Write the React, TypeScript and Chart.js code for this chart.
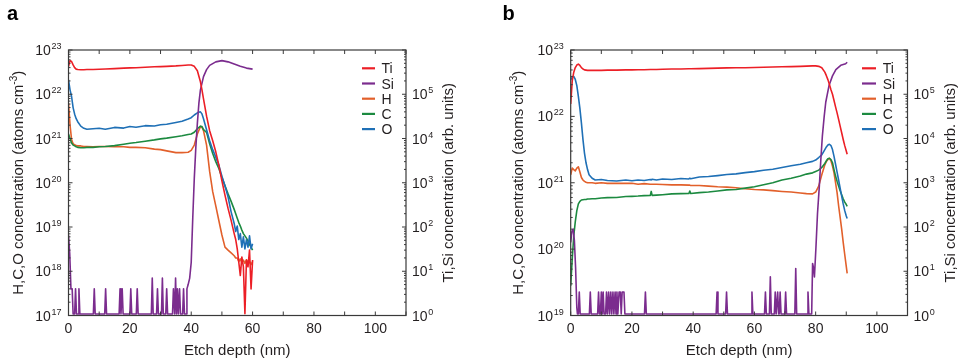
import React, { useEffect, useRef } from 'react';
import { Chart, registerables } from 'chart.js';

Chart.register(...registerables);

// ---------------- data ----------------
const seriesOrder = ['Ti', 'Si', 'H', 'C', 'O'];
const xTickValues = [0, 10, 20, 30, 40, 50, 60, 70, 80, 90, 100, 110];
const xTickLabels = [0, 20, 40, 60, 80, 100];
const rightExponents = [0, 1, 2, 3, 4, 5];
const leftExponentsA = [17, 18, 19, 20, 21, 22, 23];
const leftExponentsB = [19, 20, 21, 22, 23];

// Panel a: shared depth grid (nm) for Ti, H, C, O
const aDepth = [0, 0.5, 1, 1.5, 2, 2.5, 3, 4, 5, 6, 8, 10, 12, 15, 18, 20, 22, 25, 28, 30, 32, 35, 37, 39, 40, 41, 42, 43, 43.5, 44, 45, 46, 47, 48, 49, 50, 51, 52, 53, 54, 54.5, 55, 55.5, 56, 56.5, 57, 57.5, 58, 58.5, 59, 59.5, 60];
const aTi = [4.2e5, 5.75e5, 5.5e5, 4.6e5, 4.0e5, 3.7e5, 3.63e5, 3.59e5, 3.59e5, 3.63e5, 3.63e5, 3.67e5, 3.72e5, 3.8e5, 3.89e5, 3.94e5, 3.98e5, 4.07e5, 4.17e5, 4.22e5, 4.27e5, 4.37e5, 4.47e5, 4.57e5, 4.57e5, 4.27e5, 3.39e5, 1.91e5, 1.26e5, 7.9e4, 3.2e4, 1.5e4, 8.9e3, 5.0e3, 2.5e3, 1.1e3, 525, 263, 141, 71, 52, 32, 16, 8, 21, 12.6, 1.1, 18, 12.6, 30, 4, 18];
const aH = [6.3e21, 2.0e21, 9.5e20, 7.6e20, 7.2e20, 6.9e20, 6.8e20, 6.8e20, 6.6e20, 6.6e20, 6.5e20, 6.6e20, 6.6e20, 6.5e20, 6.5e20, 6.3e20, 6.3e20, 6.2e20, 5.75e20, 5.6e20, 5.25e20, 4.8e20, 4.8e20, 4.9e20, 5.4e20, 7.1e20, 1.26e21, 1.86e21, 1.8e21, 1.51e21, 7.1e20, 1.8e20, 6.3e19, 3.0e19, 1.4e19, 6.6e18, 3.5e18, 3.0e18, 2.6e18, 2.24e18, 2.0e18, 2.0e18, 1.66e18, 1.9e18, 1.58e18, 1.78e18, 1.51e18, 1.82e18, 1.58e18, 1.66e18, 1.41e18, 1.66e18];
const aC = [1.26e21, 1.0e21, 7.9e20, 7.1e20, 6.8e20, 6.5e20, 6.3e20, 6.2e20, 6.2e20, 6.3e20, 6.3e20, 6.5e20, 6.6e20, 6.9e20, 7.4e20, 7.8e20, 8.1e20, 8.7e20, 9.3e20, 9.8e20, 1.02e21, 1.1e21, 1.15e21, 1.23e21, 1.26e21, 1.38e21, 1.66e21, 1.9e21, 1.86e21, 1.58e21, 1.38e21, 7.6e20, 4.6e20, 3.0e20, 2.1e20, 1.32e20, 8.5e19, 5.6e19, 3.8e19, 2.5e19, 2.0e19, 1.58e19, 1.26e19, 1.05e19, 8.5e18, 7.1e18, 6.3e18, 5.6e18, 4.8e18, 4.0e18, 3.5e18, 3.0e18];
const aO = [2.1e22, 1.26e22, 8.9e21, 5.0e21, 3.55e21, 2.8e21, 2.4e21, 1.9e21, 1.7e21, 1.62e21, 1.66e21, 1.7e21, 1.62e21, 1.78e21, 1.72e21, 1.86e21, 1.8e21, 1.95e21, 1.92e21, 2.05e21, 2.1e21, 2.3e21, 2.45e21, 2.75e21, 2.95e21, 3.4e21, 3.8e21, 4.0e21, 3.6e21, 2.8e21, 1.58e21, 8.9e20, 5.6e20, 3.8e20, 2.5e20, 1.41e20, 8.5e19, 4.8e19, 2.2e19, 1.2e19, 7.9e18, 1.05e19, 5.2e18, 7.1e18, 3.5e18, 6.0e18, 3.2e18, 5.2e18, 3.5e18, 6.3e18, 3.2e18, 4.2e18];
// Panel a: Si (own depth grid)
const aSiDepth = [0, 0.4, 0.8, 1.2, 1.5, 2.0, 2.3, 2.6, 3.1, 3.4, 3.7, 8.1, 8.4, 8.7, 11.8, 12.1, 12.4, 16.5, 16.8, 17.1, 17.5, 17.8, 20.0, 20.3, 20.6, 22.1, 22.4, 22.7, 27.0, 27.3, 27.6, 28.7, 29.0, 29.3, 30.3, 30.6, 30.9, 31.7, 32.0, 32.3, 33.9, 34.2, 34.6, 34.9, 35.2, 35.5, 35.8, 36.2, 36.5, 37.2, 37.5, 37.8, 38.3, 38.6, 39.0, 39.5, 40.0, 40.5, 41.0, 41.5, 42.0, 42.5, 43, 44, 45, 46, 48, 50, 52, 54, 56, 58, 60];
const aSi = [65, 25, 4, 4, 1.08, 1.08, 4, 1.08, 1.08, 4, 1.08, 1.08, 4, 1.08, 1.08, 4, 1.08, 1.08, 4, 1.08, 4, 1.08, 1.08, 4, 1.08, 1.08, 4, 1.08, 1.08, 7, 1.08, 1.08, 4, 1.08, 1.08, 7, 1.08, 1.08, 4, 1.08, 1.08, 4, 1.08, 7, 1.08, 4, 1.08, 4, 1.08, 1.08, 4, 1.08, 1.08, 4, 5, 7, 16, 160, 1260, 6300, 2.2e4, 6.3e4, 1.26e5, 2.5e5, 3.6e5, 4.5e5, 5.4e5, 5.75e5, 5.4e5, 4.8e5, 4.3e5, 3.9e5, 3.7e5];

// Panel b: shared depth grid (nm) for Ti, H, C, O
const bDepth = [0, 0.5, 1, 1.5, 2, 2.5, 3, 3.5, 4, 4.5, 5, 5.5, 6, 7, 8, 10, 12, 15, 18, 20, 22, 24, 26, 26.3, 26.6, 28, 30, 33, 36, 38.6, 38.9, 39.2, 42, 45, 48, 51, 54, 57, 60, 63, 66, 69, 72, 75, 77, 79, 80, 81, 82, 83, 83.5, 84, 84.5, 85, 85.5, 86, 86.5, 87, 87.5, 88, 88.5, 89, 89.5, 90, 90.3];
const bTi = [6.0e4, 2.0e5, 3.16e5, 4.0e5, 4.57e5, 4.79e5, 4.47e5, 4.0e5, 3.72e5, 3.55e5, 3.51e5, 3.47e5, 3.47e5, 3.47e5, 3.47e5, 3.47e5, 3.51e5, 3.51e5, 3.55e5, 3.55e5, 3.59e5, 3.59e5, 3.63e5, 3.63e5, 3.63e5, 3.63e5, 3.67e5, 3.72e5, 3.72e5, 3.76e5, 3.76e5, 3.76e5, 3.8e5, 3.85e5, 3.89e5, 3.94e5, 3.98e5, 3.98e5, 4.03e5, 4.07e5, 4.12e5, 4.17e5, 4.22e5, 4.27e5, 4.32e5, 4.37e5, 4.37e5, 4.27e5, 3.98e5, 3.16e5, 2.63e5, 2.14e5, 1.66e5, 1.26e5, 1.0e5, 7.2e4, 5.2e4, 3.8e4, 2.7e4, 1.9e4, 1.35e4, 9.5e3, 6.9e3, 5.2e3, 4.4e3];
const bH = [1.32e21, 1.66e21, 1.58e21, 1.51e21, 1.66e21, 1.74e21, 1.45e21, 1.2e21, 1.1e21, 1.05e21, 1.02e21, 1.0e21, 1.0e21, 1.0e21, 9.8e20, 1.0e21, 9.8e20, 9.8e20, 9.8e20, 9.8e20, 9.5e20, 9.7e20, 9.5e20, 9.5e20, 9.5e20, 9.5e20, 9.4e20, 9.3e20, 9.3e20, 9.2e20, 9.2e20, 9.1e20, 9.1e20, 8.9e20, 8.7e20, 8.6e20, 8.4e20, 8.1e20, 7.9e20, 7.8e20, 7.6e20, 7.4e20, 7.25e20, 7.0e20, 6.85e20, 6.8e20, 7.25e20, 8.9e20, 1.32e21, 1.86e21, 2.09e21, 2.24e21, 2.34e21, 2.14e21, 1.78e21, 1.41e21, 1.0e21, 7.1e20, 4.5e20, 3.0e20, 2.0e20, 1.26e20, 8.3e19, 5.5e19, 4.3e19];
const bC = [2.8e19, 7.1e19, 1.58e20, 2.6e20, 3.8e20, 4.8e20, 5.25e20, 5.5e20, 5.56e20, 5.6e20, 5.6e20, 5.7e20, 5.7e20, 5.75e20, 5.75e20, 5.9e20, 5.96e20, 6.0e20, 6.2e20, 6.24e20, 6.3e20, 6.4e20, 6.45e20, 7.4e20, 6.45e20, 6.5e20, 6.6e20, 6.8e20, 6.85e20, 6.9e20, 7.5e20, 6.9e20, 7.1e20, 7.25e20, 7.5e20, 7.8e20, 7.9e20, 8.3e20, 8.7e20, 9.3e20, 1.0e21, 1.1e21, 1.17e21, 1.26e21, 1.35e21, 1.41e21, 1.48e21, 1.55e21, 1.7e21, 1.95e21, 2.14e21, 2.3e21, 2.34e21, 2.24e21, 2.0e21, 1.58e21, 1.26e21, 1.05e21, 8.9e20, 7.6e20, 6.6e20, 5.75e20, 5.1e20, 4.7e20, 4.4e20];
const bO = [3.55e22, 3.9e22, 4.0e22, 3.6e22, 2.9e22, 2.0e22, 1.32e22, 7.9e21, 4.5e21, 2.8e21, 2.0e21, 1.58e21, 1.32e21, 1.17e21, 1.1e21, 1.12e21, 1.08e21, 1.06e21, 1.1e21, 1.07e21, 1.1e21, 1.08e21, 1.12e21, 1.1e21, 1.13e21, 1.1e21, 1.14e21, 1.12e21, 1.16e21, 1.14e21, 1.17e21, 1.15e21, 1.22e21, 1.24e21, 1.28e21, 1.33e21, 1.36e21, 1.42e21, 1.47e21, 1.54e21, 1.6e21, 1.7e21, 1.8e21, 1.9e21, 2.0e21, 2.1e21, 2.2e21, 2.4e21, 2.63e21, 3.16e21, 3.47e21, 3.7e21, 3.8e21, 3.63e21, 3.16e21, 2.5e21, 1.9e21, 1.45e21, 1.1e21, 8.3e20, 6.3e20, 4.8e20, 3.8e20, 3.16e20, 2.9e20];
// Panel b: Si (own depth grid)
const bSiDepth = [0, 0.4, 0.8, 1.2, 1.6, 2.0, 2.2, 2.5, 2.8, 3.1, 6.1, 6.4, 6.7, 8.8, 9.1, 9.4, 9.7, 10.0, 10.3, 10.6, 10.9, 11.4, 11.7, 12.0, 12.4, 12.7, 13.1, 13.4, 13.8, 14.1, 14.5, 14.8, 15.1, 15.4, 15.8, 16.2, 16.5, 16.8, 17.4, 17.7, 24.1, 24.4, 24.7, 47.5, 47.8, 48.1, 50.6, 50.9, 51.2, 58.9, 59.2, 59.5, 63.3, 63.6, 63.9, 64.9, 65.2, 65.5, 66.5, 66.8, 67.1, 67.3, 67.6, 67.9, 68.1, 68.4, 68.7, 69.9, 70.2, 70.5, 73.2, 73.5, 73.8, 77.2, 77.5, 77.8, 78.7, 79.0, 79.3, 79.6, 80.1, 80.6, 81.2, 81.7, 82.2, 82.8, 83.3, 84.4, 85.5, 86.6, 88.2, 89.8, 90.3];
const bSi = [45, 80, 90, 50, 12, 1.5, 1.08, 1.08, 3.4, 1.08, 1.08, 3.4, 1.08, 1.08, 3.4, 1.08, 1.08, 3.4, 1.08, 3.4, 1.08, 1.08, 3.4, 1.08, 3.4, 1.08, 3.4, 1.08, 3.4, 1.08, 3.4, 1.08, 3.4, 1.08, 3.4, 3.4, 1.08, 3.4, 3.4, 1.08, 1.08, 3.4, 1.08, 1.08, 3.4, 1.08, 1.08, 3.4, 1.08, 1.08, 3.4, 1.08, 1.08, 3.4, 1.08, 1.08, 7.5, 1.08, 1.08, 3.4, 1.08, 1.08, 3.4, 1.08, 1.08, 3.4, 1.08, 1.08, 3.4, 1.08, 1.08, 11.5, 1.08, 1.08, 3.4, 1.08, 1.08, 15, 12, 7.4, 35, 200, 830, 3400, 1.15e4, 3.2e4, 6.6e4, 1.6e5, 2.6e5, 3.6e5, 4.5e5, 4.9e5, 5.3e5];

// ---------------- styling ----------------
const FONT = '"Liberation Sans", Arial, Helvetica, sans-serif';
const TEXT = '#231f20';
const AXIS = '#3a3a3a';
const COLORS: Record<string, string> = {
  Ti: '#ec1f26',
  Si: '#7b2c8e',
  H: '#e2602b',
  C: '#1c8a40',
  O: '#1f70b6',
};
const H_CANVAS = 362;

type PanelSpec = {
  letter: string;
  width: number;
  plotLeft: number;
  plotRight: number;
  plotTop: number;
  plotBottom: number;
  leftMin: number;
  leftMax: number;
  leftExps: number[];
  leftTitleX: number;
  rightTitleX: number;
  legendX1: number;
  legendX2: number;
  legendTextX: number;
  letterX: number;
  series: { label: string; depth: number[]; values: number[]; axis: 'y' | 'y2' }[];
};

function pts(xs: number[], ys: number[]) {
  return xs.map((x, i) => ({ x, y: ys[i] }));
}

function drawPow(ctx: CanvasRenderingContext2D, exp: string, x: number, y: number, align: 'left' | 'right') {
  ctx.font = `14px ${FONT}`;
  const wb = ctx.measureText('10').width;
  ctx.font = `9px ${FONT}`;
  const we = ctx.measureText(exp).width;
  const total = wb + 0.6 + we;
  const x0 = align === 'right' ? x - total : x;
  ctx.textAlign = 'left';
  ctx.textBaseline = 'alphabetic';
  ctx.font = `14px ${FONT}`;
  ctx.fillText('10', x0, y + 5);
  ctx.font = `9px ${FONT}`;
  ctx.fillText(exp, x0 + wb + 0.6, y - 1);
}

function drawRotated(
  ctx: CanvasRenderingContext2D,
  parts: { t: string; sup?: boolean }[],
  baseX: number,
  centerY: number
) {
  const widths = parts.map((p) => {
    ctx.font = p.sup ? `10px ${FONT}` : `15px ${FONT}`;
    return ctx.measureText(p.t).width;
  });
  const total = widths.reduce((s, w) => s + w, 0);
  ctx.save();
  ctx.translate(baseX, centerY);
  ctx.rotate(-Math.PI / 2);
  ctx.textAlign = 'left';
  ctx.textBaseline = 'alphabetic';
  let cx = -total / 2;
  parts.forEach((p, i) => {
    ctx.font = p.sup ? `10px ${FONT}` : `15px ${FONT}`;
    ctx.fillText(p.t, cx, p.sup ? -6 : 0);
    cx += widths[i];
  });
  ctx.restore();
}

function makeDecor(p: PanelSpec) {
  return {
    id: 'decor_' + p.letter,
    afterDatasetsDraw(chart: any) {
      const { ctx, chartArea: a, scales } = chart;
      const sx = scales.x;
      const sy = scales.y;
      const sy2 = scales.y2;
      ctx.save();

      // frame
      ctx.strokeStyle = AXIS;
      ctx.lineWidth = 1.2;
      ctx.strokeRect(a.left, a.top, a.right - a.left, a.bottom - a.top);

      // ticks (inward)
      ctx.lineWidth = 1;
      ctx.beginPath();
      xTickValues.forEach((v) => {
        const px = sx.getPixelForValue(v);
        ctx.moveTo(px, a.bottom);
        ctx.lineTo(px, a.bottom - 4);
        ctx.moveTo(px, a.top);
        ctx.lineTo(px, a.top + 4);
      });
      const logTicks = (scale: any, exps: number[], edge: number, dir: number) => {
        for (let i = 0; i < exps.length; i++) {
          const e = exps[i];
          const kMax = i === exps.length - 1 ? 1 : 9;
          for (let k = 1; k <= kMax; k++) {
            const py = scale.getPixelForValue(k * Math.pow(10, e));
            const len = k === 1 ? 4 : 2;
            ctx.moveTo(edge, py);
            ctx.lineTo(edge + dir * len, py);
          }
        }
      };
      logTicks(sy, p.leftExps, a.left, 1);
      logTicks(sy2, [0, 1, 2, 3, 4, 5, 6], a.right, -1);
      ctx.stroke();

      // tick labels
      ctx.fillStyle = TEXT;
      ctx.font = `14px ${FONT}`;
      ctx.textAlign = 'center';
      ctx.textBaseline = 'alphabetic';
      xTickLabels.forEach((v) => {
        ctx.fillText(String(v), sx.getPixelForValue(v), a.bottom + 17.5);
      });
      p.leftExps.forEach((e) => {
        drawPow(ctx, String(e), a.left - 7, sy.getPixelForValue(Math.pow(10, e)), 'right');
      });
      rightExponents.forEach((e) => {
        drawPow(ctx, String(e), a.right + 6, sy2.getPixelForValue(Math.pow(10, e)), 'left');
      });

      // axis titles
      ctx.font = `15px ${FONT}`;
      ctx.textAlign = 'center';
      ctx.fillText('Etch depth (nm)', (a.left + a.right) / 2, 354.5);
      const cy = (a.top + a.bottom) / 2;
      drawRotated(ctx, [{ t: 'H,C,O concentration (atoms cm' }, { t: '-3', sup: true }, { t: ')' }], p.leftTitleX, cy);
      drawRotated(ctx, [{ t: 'Ti,Si concentration (arb. units)' }], p.rightTitleX, cy);

      // legend
      seriesOrder.forEach((label, i) => {
        const ds = chart.data.datasets.find((d: any) => d.label === label);
        const yy = 68.3 + i * 15.2;
        ctx.strokeStyle = ds.borderColor;
        ctx.lineWidth = 2.2;
        ctx.beginPath();
        ctx.moveTo(p.legendX1, yy);
        ctx.lineTo(p.legendX2, yy);
        ctx.stroke();
        ctx.fillStyle = TEXT;
        ctx.font = `14px ${FONT}`;
        ctx.textAlign = 'left';
        ctx.fillText(label, p.legendTextX, yy + 5);
      });

      // panel letter
      ctx.font = `bold 20px ${FONT}`;
      ctx.fillStyle = '#000';
      ctx.textAlign = 'left';
      ctx.fillText(p.letter, p.letterX, 20);

      ctx.restore();
    },
  };
}

function buildConfig(p: PanelSpec): any {
  const drawOrder = ['Ti', 'Si', 'O', 'C', 'H'];
  const datasets = drawOrder.map((label) => {
    const s = p.series.find((q) => q.label === label)!;
    return {
      label,
      data: pts(s.depth, s.values),
      yAxisID: s.axis,
      borderColor: COLORS[label],
      backgroundColor: COLORS[label],
      borderWidth: 1.6,
      borderJoinStyle: 'round',
      pointRadius: 0,
      pointHoverRadius: 0,
      fill: false,
      tension: 0,
    };
  });
  const common = {
    grid: { display: false, drawTicks: false },
    border: { display: false },
    ticks: { display: false },
    title: { display: false },
  };
  return {
    type: 'line',
    data: { datasets },
    plugins: [makeDecor(p)],
    options: {
      responsive: false,
      maintainAspectRatio: false,
      animation: false,
      devicePixelRatio: 1,
      events: [],
      layout: { padding: { top: p.plotTop, left: 0, right: 0, bottom: 0 }, autoPadding: false },
      plugins: { legend: { display: false }, tooltip: { enabled: false }, title: { display: false } },
      scales: {
        x: {
          ...common,
          type: 'linear',
          position: 'bottom',
          min: 0,
          max: 110,
          display: true,
          afterFit: (s: any) => {
            s.height = H_CANVAS - p.plotBottom;
          },
        },
        y: {
          ...common,
          type: 'logarithmic',
          position: 'left',
          min: p.leftMin,
          max: p.leftMax,
          display: true,
          afterFit: (s: any) => {
            s.width = p.plotLeft;
          },
        },
        y2: {
          ...common,
          type: 'logarithmic',
          position: 'right',
          min: 1,
          max: 1e6,
          display: true,
          afterFit: (s: any) => {
            s.width = p.width - p.plotRight;
          },
        },
      },
    },
  };
}

const panelA: PanelSpec = {
  letter: 'a',
  width: 480,
  plotLeft: 68.5,
  plotRight: 406,
  plotTop: 50,
  plotBottom: 315.5,
  leftMin: 1e17,
  leftMax: 1e23,
  leftExps: leftExponentsA,
  leftTitleX: 23,
  rightTitleX: 452.5,
  legendX1: 362,
  legendX2: 375,
  legendTextX: 381.5,
  letterX: 7,
  series: [
    { label: 'Ti', depth: aDepth, values: aTi, axis: 'y2' },
    { label: 'Si', depth: aSiDepth, values: aSi, axis: 'y2' },
    { label: 'H', depth: aDepth, values: aH, axis: 'y' },
    { label: 'C', depth: aDepth, values: aC, axis: 'y' },
    { label: 'O', depth: aDepth, values: aO, axis: 'y' },
  ],
};

const panelB: PanelSpec = {
  letter: 'b',
  width: 489,
  plotLeft: 90.7,
  plotRight: 427.5,
  plotTop: 50,
  plotBottom: 315.5,
  leftMin: 1e19,
  leftMax: 1e23,
  leftExps: leftExponentsB,
  leftTitleX: 42.5,
  rightTitleX: 474.5,
  legendX1: 382,
  legendX2: 396,
  legendTextX: 402.7,
  letterX: 22.5,
  series: [
    { label: 'Ti', depth: bDepth, values: bTi, axis: 'y2' },
    { label: 'Si', depth: bSiDepth, values: bSi, axis: 'y2' },
    { label: 'H', depth: bDepth, values: bH, axis: 'y' },
    { label: 'C', depth: bDepth, values: bC, axis: 'y' },
    { label: 'O', depth: bDepth, values: bO, axis: 'y' },
  ],
};

function Panel({ spec, left }: { spec: PanelSpec; left: number }) {
  const ref = useRef<HTMLCanvasElement | null>(null);
  useEffect(() => {
    if (!ref.current) return;
    const chart = new Chart(ref.current, buildConfig(spec));
    return () => chart.destroy();
  }, [spec]);
  return (
    <canvas
      ref={ref}
      width={spec.width}
      height={H_CANVAS}
      style={{ position: 'absolute', left, top: 0, width: spec.width, height: H_CANVAS, display: 'block' }}
    />
  );
}

export default function App() {
  return (
    <div
      style={{
        position: 'fixed',
        left: 0,
        top: 0,
        width: 969,
        height: H_CANVAS,
        background: '#ffffff',
        overflow: 'hidden',
      }}
    >
      <Panel spec={panelA} left={0} />
      <Panel spec={panelB} left={480} />
    </div>
  );
}
